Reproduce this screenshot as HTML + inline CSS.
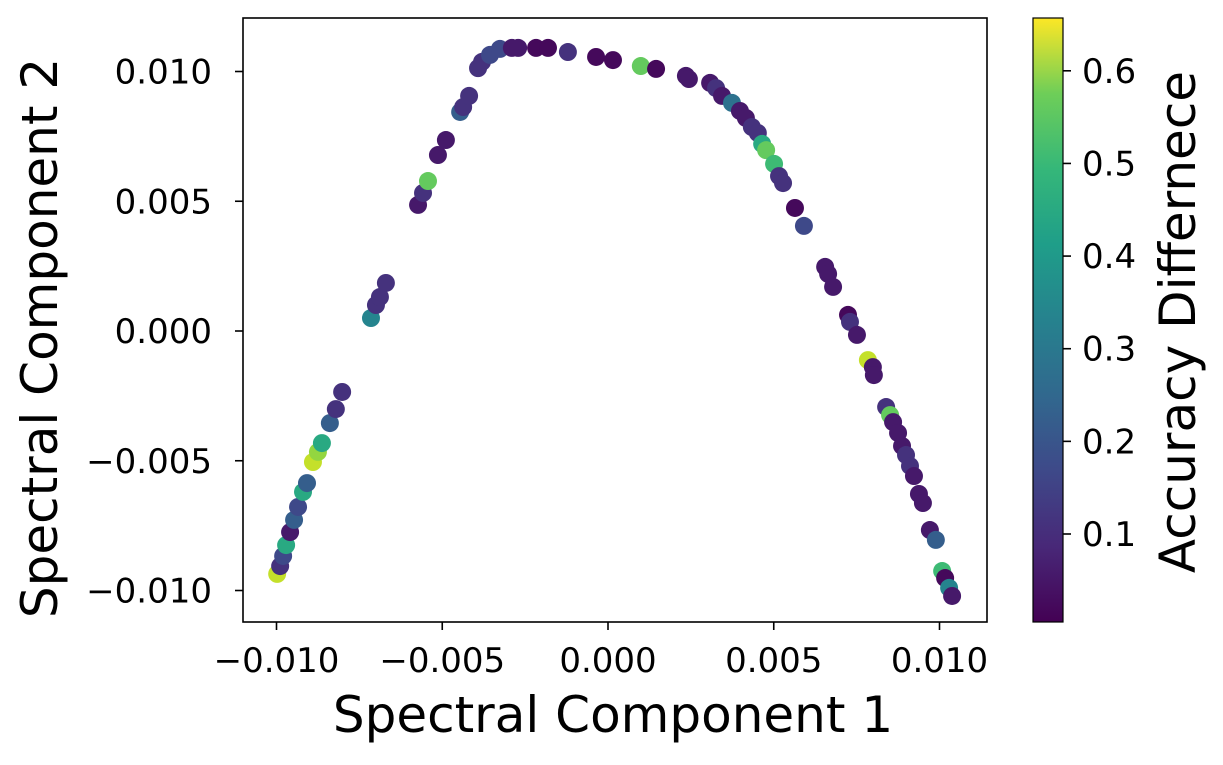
<!DOCTYPE html>
<html><head><meta charset="utf-8"><style>
body{margin:0;background:#fff}
svg text{font-family:"DejaVu Sans","Liberation Sans",sans-serif;fill:#000}
</style></head><body>
<svg id="chart" width="1223" height="760" xmlns="http://www.w3.org/2000/svg">
<defs><linearGradient id="vir" x1="0" y1="1" x2="0" y2="0">
<stop offset="0" stop-color="#440154"/><stop offset="0.125" stop-color="#482878"/><stop offset="0.25" stop-color="#3e4989"/><stop offset="0.375" stop-color="#31688e"/><stop offset="0.5" stop-color="#26828e"/><stop offset="0.625" stop-color="#1f9e89"/><stop offset="0.75" stop-color="#35b779"/><stop offset="0.875" stop-color="#6ece58"/><stop offset="1" stop-color="#fde725"/></linearGradient></defs>
<g id="marks"></g>
<rect x="243" y="18" width="744" height="604" fill="none" stroke="#000" stroke-width="1.6"/>
<g id="axes"></g>
<rect x="1033" y="18" width="30" height="604" fill="url(#vir)" stroke="#000" stroke-width="1.2"/>
<text x="613" y="732" font-size="50" text-anchor="middle">Spectral Component 1</text>
<text transform="translate(57,338) rotate(-90)" font-size="50" text-anchor="middle">Spectral Component 2</text>
<text transform="translate(1195,322) rotate(-90)" font-size="50" text-anchor="middle">Accuracy Differnece</text>
</svg>
<script>
const xs=[-9.98,-9.89,-9.80,-9.71,-9.59,-9.47,-9.35,-9.20,-9.08,-8.90,-8.75,-8.63,-8.39,-8.21,-8.02,-7.15,-7.00,-6.88,-6.70,-5.73,-5.58,-5.43,-5.13,-4.89,-4.46,-4.37,-4.19,-3.92,-3.80,-3.56,-3.26,-2.90,-2.71,-2.17,-1.81,-1.21,-0.36,0.15,0.99,1.45,2.35,2.44,3.08,3.26,3.44,3.74,3.98,4.16,4.34,4.52,4.65,4.77,5.01,5.16,5.28,5.64,5.91,6.55,6.64,6.79,7.24,7.30,7.51,7.84,7.99,8.02,8.39,8.51,8.60,8.75,8.87,8.99,9.11,9.23,9.38,9.50,9.71,9.89,10.08,10.17,10.29,10.38];
const ys=[-9.36,-9.06,-8.67,-8.25,-7.75,-7.28,-6.78,-6.20,-5.86,-5.05,-4.66,-4.32,-3.55,-3.01,-2.35,0.50,1.00,1.31,1.85,4.86,5.32,5.78,6.78,7.36,8.44,8.63,9.06,10.13,10.37,10.64,10.87,10.91,10.91,10.91,10.91,10.75,10.56,10.44,10.21,10.10,9.83,9.71,9.56,9.36,9.06,8.79,8.48,8.21,7.86,7.63,7.21,6.97,6.44,5.97,5.70,4.74,4.05,2.47,2.20,1.70,0.62,0.35,-0.15,-1.12,-1.39,-1.70,-2.93,-3.24,-3.51,-3.93,-4.43,-4.78,-5.20,-5.59,-6.28,-6.63,-7.67,-8.05,-9.25,-9.52,-9.90,-10.21];
const cs=[0.6,0.1,0.15,0.4,0.05,0.2,0.15,0.4,0.2,0.6,0.55,0.4,0.2,0.1,0.1,0.3,0.1,0.1,0.1,0.05,0.1,0.5,0.05,0.05,0.2,0.1,0.1,0.1,0.1,0.15,0.15,0.05,0.05,0.02,0.02,0.1,0.02,0.02,0.5,0.02,0.05,0.05,0.05,0.1,0.05,0.25,0.05,0.05,0.1,0.1,0.4,0.5,0.45,0.1,0.1,0.02,0.15,0.05,0.05,0.05,0.02,0.1,0.05,0.6,0.05,0.05,0.1,0.5,0.05,0.05,0.05,0.1,0.1,0.05,0.05,0.05,0.05,0.2,0.45,0.02,0.3,0.05];
const xTicks=[-0.010,-0.005,0.000,0.005,0.010];
const yTicks=[-0.010,-0.005,0.000,0.005,0.010];
const cTicks=[0.1,0.2,0.3,0.4,0.5,0.6];
const NS="http://www.w3.org/2000/svg";
const X=v=>608+v*33150, Y=v=>331-v*25950, C=v=>622-(v-0.005)/(0.657-0.005)*604;
const vir=[[68,1,84],[72,40,120],[62,73,137],[49,104,142],[38,130,142],[31,158,137],[53,183,121],[110,206,88],[181,222,43],[253,231,37]];
function col(v){let t=Math.max(0,Math.min(1,(v-0.005)/(0.652)))*(vir.length-1);let i=Math.min(Math.floor(t),vir.length-2),f=t-i;const a=vir[i],b=vir[i+1];return `rgb(${a.map((q,k)=>Math.round(q+(b[k]-q)*f)).join(',')})`;}
function fmt(v){const s=Math.abs(v).toFixed(3);return (v<-1e-9?'\u2212':'')+s;}
const g=document.getElementById('marks');
for(let i=0;i<xs.length;i++){const c=document.createElementNS(NS,'circle');


c.setAttribute('cx',X(xs[i]/1000));c.setAttribute('cy',Y(ys[i]/1000));c.setAttribute('r',9);c.setAttribute('fill',col(cs[i]));g.appendChild(c);}
const ax=document.getElementById('axes');
function add(tag,attrs,txt){const e=document.createElementNS(NS,tag);for(const k in attrs)e.setAttribute(k,attrs[k]);if(txt!==undefined)e.textContent=txt;ax.appendChild(e);return e;}
xTicks.forEach(v=>{const x=X(v);
const l=add('line',{x1:x,x2:x,y1:622,y2:630,stroke:'#000','stroke-width':1.6});


const t=add('text',{x:x,y:672,'font-size':34,'text-anchor':'middle'},fmt(v));

});
yTicks.forEach(v=>{const y=Y(v);
const l=add('line',{x1:235,x2:243,y1:y,y2:y,stroke:'#000','stroke-width':1.6});


const t=add('text',{x:212,y:y+12,'font-size':34,'text-anchor':'end'},fmt(v));

});
cTicks.forEach(v=>{const y=C(v);
const l=add('line',{x1:1063,x2:1071,y1:y,y2:y,stroke:'#000','stroke-width':1.6});


const t=add('text',{x:1082,y:y+12,'font-size':34},v.toFixed(1));

});
</script>
</body></html>
